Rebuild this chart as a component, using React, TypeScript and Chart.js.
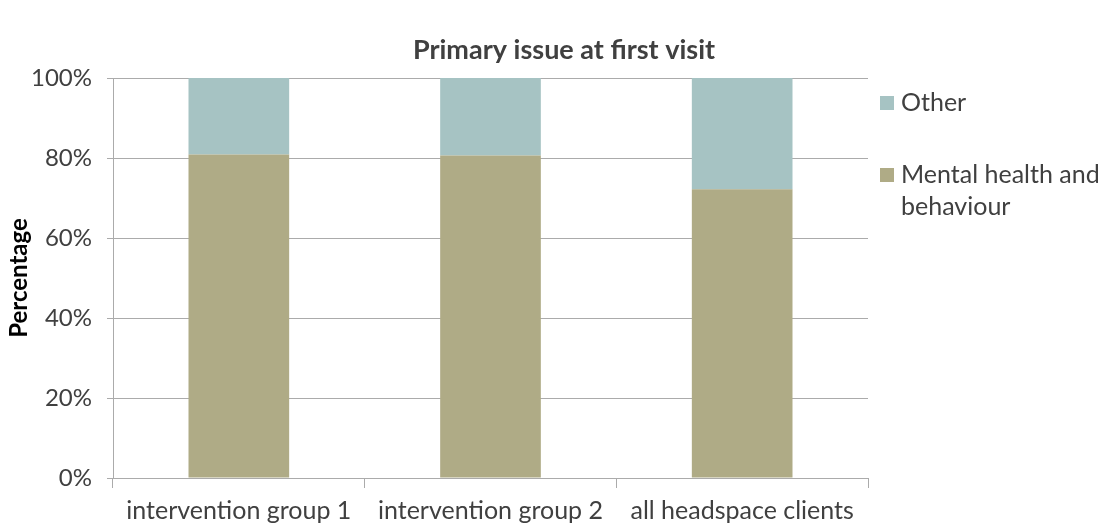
import React, { useEffect, useRef } from "react";
import { Chart, registerables } from "chart.js";

Chart.register(...registerables);

const categories = ["intervention group 1", "intervention group 2", "all headspace clients"];
const mentalHealth = [80.9, 80.6, 72.2];
const other = [19.1, 19.4, 27.8];
const yTicks = [0, 20, 40, 60, 80, 100];
const titleText = "Primary issue at first visit";
const yTitle = "Percentage";
const legendOther = "Other";
const legendMental = ["Mental health and", "behaviour"];

const FONT = "Lato, 'Open Sans', sans-serif";
const TEXT = "#404040";
const C_OTHER = "#A6C3C3";
const C_MENTAL = "#AFAB86";
const GRID = "#ABABAB";

export default function App() {
  const ref = useRef<HTMLCanvasElement | null>(null);
  useEffect(() => {
    if (!ref.current) return;
    const deco = {
      id: "deco",
      afterDraw(chart: any) {
        const ctx = chart.ctx;
        ctx.save();
        ctx.fillStyle = TEXT;
        ctx.font = `bold 27px ${FONT}`;
        ctx.textAlign = "center";
        ctx.textBaseline = "middle";
        ctx.fillText(titleText, 564, 50);
        ctx.save();
        ctx.translate(19, 278);
        ctx.rotate(-Math.PI / 2);
        ctx.font = `bold 24px ${FONT}`;
        ctx.fillStyle = "#000";
        ctx.fillText(yTitle, 0, 0);
        ctx.restore();
        ctx.textAlign = "left";
        ctx.font = `25px ${FONT}`;
        ctx.fillStyle = C_OTHER;
        ctx.fillRect(880, 96, 14, 14);
        ctx.fillStyle = TEXT;
        ctx.fillText(legendOther, 901, 103);
        ctx.fillStyle = C_MENTAL;
        ctx.fillRect(880, 168, 14, 14);
        ctx.fillStyle = TEXT;
        ctx.fillText(legendMental[0], 901, 175);
        ctx.fillText(legendMental[1], 901, 207);
        ctx.restore();
      },
    };
    const chart = new Chart(ref.current, {
      type: "bar",
      data: {
        labels: categories,
        datasets: [
          { label: "Mental health and behaviour", data: mentalHealth, backgroundColor: C_MENTAL, barPercentage: 0.4, categoryPercentage: 1 },
          { label: "Other", data: other, backgroundColor: C_OTHER, barPercentage: 0.4, categoryPercentage: 1 },
        ],
      },
      options: {
        animation: false,
        responsive: false,
        maintainAspectRatio: false,
        layout: { padding: { left: 0, top: 78, right: 234, bottom: 0 } },
        plugins: { legend: { display: false }, title: { display: false }, tooltip: { enabled: false } },
        scales: {
          x: {
            stacked: true,
            afterFit: (s: any) => { s.height = 47; },
            grid: { offset: true, drawOnChartArea: false, drawTicks: true, tickLength: 10, color: GRID },
            border: { color: GRID },
            ticks: { color: TEXT, font: { family: FONT, size: 25 }, padding: 8, maxRotation: 0 },
          },
          y: {
            stacked: true,
            min: 0,
            max: 100,
            afterFit: (s: any) => { s.width = 113; },
            afterBuildTicks: (s: any) => { s.ticks = yTicks.map((v) => ({ value: v })); },
            grid: { color: GRID, tickLength: 6 },
            border: { color: GRID },
            ticks: { color: TEXT, font: { family: FONT, size: 24 }, padding: 15, callback: (v: any) => v + "%" },
          },
        },
      },
      plugins: [deco],
    });
    return () => chart.destroy();
  }, []);
  return (
    <div style={{ position: "absolute", left: 0, top: 0, width: 1102, height: 525, background: "#fff" }}>
      <canvas ref={ref} width={1102} height={525} style={{ width: 1102, height: 525 }} />
    </div>
  );
}
